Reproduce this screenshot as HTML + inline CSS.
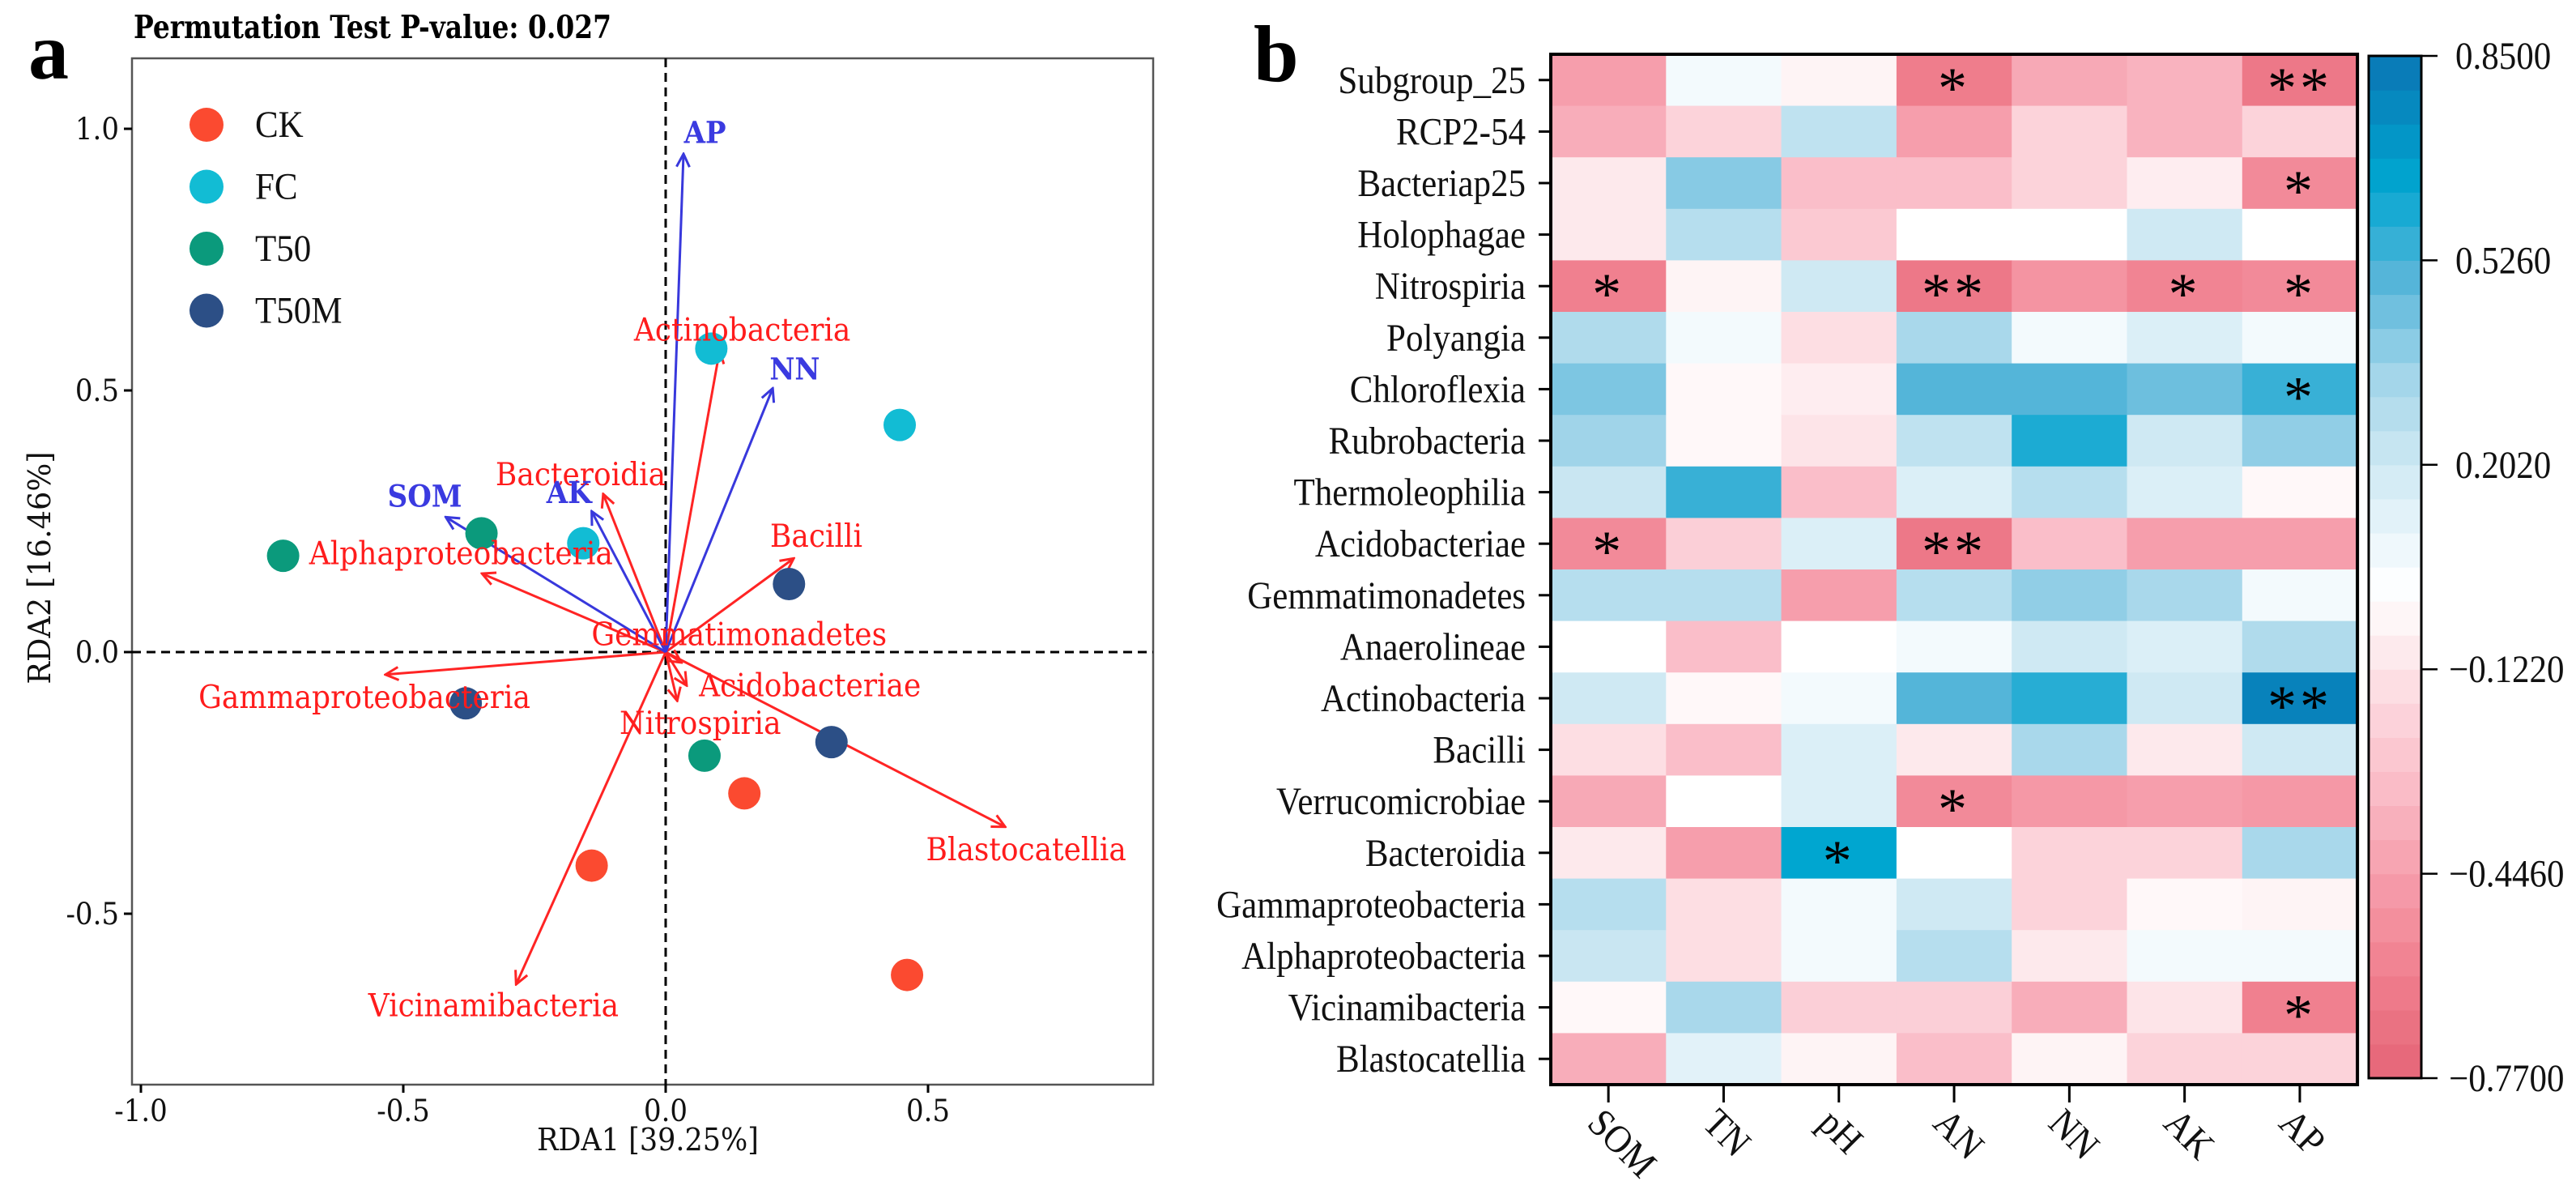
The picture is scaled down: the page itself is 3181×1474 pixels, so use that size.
<!DOCTYPE html>
<html><head><meta charset="utf-8"><style>
html,body{margin:0;padding:0;background:#fff;}
svg{display:block;}
</style></head><body>
<svg id="fig" width="3181" height="1474" viewBox="0 0 3181 1474" xmlns="http://www.w3.org/2000/svg">
<defs>
<marker id="ahR" viewBox="0 0 20 20" refX="18" refY="10" markerWidth="20" markerHeight="20" markerUnits="userSpaceOnUse" orient="auto"><path d="M2,2 L18,10 L2,18" fill="none" stroke="#ff2424" stroke-width="3"/></marker>
<marker id="ahB" viewBox="0 0 20 20" refX="18" refY="10" markerWidth="20" markerHeight="20" markerUnits="userSpaceOnUse" orient="auto"><path d="M2,2 L18,10 L2,18" fill="none" stroke="#3838dc" stroke-width="3"/></marker>
</defs>
<g id="pa"></g>
<g id="pb"></g>
</svg>
<script>
// ---------- Panel a data ----------
const groupNames = ["CK","FC","T50","T50M"];
const groupColors = ["#fb4a30","#12bcd4","#0b9a7c","#2c4f86"];
const sampleGroup = [0,0,0,1,1,1,2,2,2,3,3,3];
const sampleX = [0.15,-0.141,0.46, 0.087,0.446,-0.157, -0.729,-0.351,0.074, 0.235,-0.381,0.316];
const sampleY = [-0.27,-0.408,-0.617, 0.58,0.434,0.208, 0.184,0.227,-0.198, 0.13,-0.098,-0.172];
const envNames = ["AP","NN","SOM","AK"];
const envX = [0.034,0.204,-0.419,-0.141];
const envY = [0.952,0.504,0.258,0.269];
const envLabX = [0.075,0.246,-0.459,-0.184];
const envLabY = [0.993,0.541,0.298,0.305];
const spNames = ["Actinobacteria","Bacteroidia","Alphaproteobacteria","Bacilli","Gemmatimonadetes","Gammaproteobacteria","Acidobacteriae","Nitrospiria","Blastocatellia","Vicinamibacteria"];
const spX = [0.103,-0.119,-0.35,0.244,0.03,-0.534,0.04,0.022,0.647,-0.285];
const spY = [0.577,0.302,0.15,0.179,-0.02,-0.043,-0.064,-0.093,-0.334,-0.635];
const spLabX = [0.146,-0.162,-0.39,0.287,0.14,-0.574,0.275,0.066,0.687,-0.328];
const spLabY = [0.615,0.339,0.188,0.221,0.033,-0.087,-0.064,-0.136,-0.378,-0.676];
const xTicks = [-1.0,-0.5,0.0,0.5];
const yTicks = [-0.5,0.0,0.5,1.0];
const xTickLabels = ["-1.0","-0.5","0.0","0.5"];
const yTickLabels = ["-0.5","0.0","0.5","1.0"];

// ---------- Panel b data ----------
const rowNames = ["Subgroup_25","RCP2-54","Bacteriap25","Holophagae","Nitrospiria","Polyangia","Chloroflexia","Rubrobacteria","Thermoleophilia","Acidobacteriae","Gemmatimonadetes","Anaerolineae","Actinobacteria","Bacilli","Verrucomicrobiae","Bacteroidia","Gammaproteobacteria","Alphaproteobacteria","Vicinamibacteria","Blastocatellia"];
const colNames = ["SOM","TN","pH","AN","NN","AK","AP"];
const corrValues = [
[-0.45,0.05,-0.05,-0.62,-0.4,-0.35,-0.65],
[-0.38,-0.2,0.25,-0.45,-0.2,-0.35,-0.2],
[-0.1,0.4,-0.3,-0.3,-0.2,-0.08,-0.55],
[-0.1,0.28,-0.25,0,0,0.2,0],
[-0.6,-0.05,0.2,-0.65,-0.5,-0.58,-0.55],
[0.3,0.05,-0.15,0.32,0.05,0.15,0.05],
[0.42,-0.03,-0.08,0.5,0.5,0.45,0.55],
[0.35,-0.03,-0.12,0.25,0.6,0.2,0.38],
[0.22,0.55,-0.3,0.15,0.28,0.15,-0.03],
[-0.55,-0.22,0.15,-0.65,-0.3,-0.45,-0.45],
[0.28,0.28,-0.45,0.28,0.38,0.32,0.05],
[0,-0.3,0,0.05,0.2,0.15,0.3],
[0.2,-0.03,0.05,0.5,0.58,0.2,0.8],
[-0.15,-0.3,0.15,-0.1,0.32,-0.1,0.2],
[-0.4,0,0.15,-0.55,-0.48,-0.45,-0.48],
[-0.1,-0.45,0.65,0,-0.2,-0.2,0.32],
[0.28,-0.15,0.05,0.2,-0.2,-0.03,-0.05],
[0.22,-0.15,0.05,0.28,-0.1,0.05,0.05],
[-0.03,0.32,-0.22,-0.22,-0.38,-0.12,-0.6],
[-0.38,0.12,-0.05,-0.3,-0.05,-0.2,-0.2]];
const sigMarks = [
["","","","*","","","**"],["","","","","","",""],["","","","","","","*"],["","","","","","",""],
["*","","","**","","*","*"],["","","","","","",""],["","","","","","","*"],["","","","","","",""],
["","","","","","",""],["*","","","**","","",""],["","","","","","",""],["","","","","","",""],
["","","","","","","**"],["","","","","","",""],["","","","*","","",""],["","","*","","","",""],
["","","","","","",""],["","","","","","",""],["","","","","","","*"],["","","","","","",""]];
const cbarTicks = [0.85,0.526,0.202,-0.122,-0.446,-0.77];
const cbarTickLabels = ["0.8500","0.5260","0.2020","\u22120.1220","\u22120.4460","\u22120.7700"];

const NS="http://www.w3.org/2000/svg";
function mk(parent,tag,attrs,text){const e=document.createElementNS(NS,tag);for(const k in attrs)e.setAttribute(k,attrs[k]);if(text!==undefined)e.textContent=text;parent.appendChild(e);return e;}
// stretched text: placed via transform with vertical scale
function stx(parent,x,y,sy,attrs,text){const a=Object.assign({x:0,y:0,transform:'translate('+x+','+y+') scale(1,'+sy+')'},attrs);return mk(parent,'text',a,text);}

// ---------- Panel a ----------
const pa=document.getElementById('pa');
const X0=822, Y0=805, KX=648, KY=646;
const sx=v=>X0+v*KX, sy=v=>Y0-v*KY;
const boxL=163, boxR=1424, boxT=72, boxB=1339;
const serif='"DejaVu Serif", "Liberation Serif", serif';
let t;
t=mk(pa,'text',{x:35,y:97,'font-family':'"Liberation Serif", serif','font-weight':'bold','font-size':100,fill:'#000'},'a');

t=stx(pa,165,47,1.1,{'font-family':serif,'font-weight':'bold','font-size':36,fill:'#000',textLength:590,lengthAdjust:'spacingAndGlyphs'},'Permutation Test P-value: 0.027');

t=mk(pa,'rect',{x:boxL,y:boxT,width:boxR-boxL,height:boxB-boxT,fill:'none',stroke:'#555',"stroke-width":2.5});

t=mk(pa,'line',{x1:X0,x2:X0,y1:boxT,y2:boxB,stroke:'#000','stroke-width':3,'stroke-dasharray':'11,7'});

t=mk(pa,'line',{x1:boxL,x2:boxR,y1:Y0,y2:Y0,stroke:'#000','stroke-width':3,'stroke-dasharray':'11,7'});

xTicks.forEach((v,i)=>{
  const l=mk(pa,'line',{x1:sx(v),x2:sx(v),y1:boxB,y2:boxB+10,stroke:'#000','stroke-width':3});
  
  const tx=stx(pa,sx(v),boxB+45,1.1,{'text-anchor':'middle','font-family':serif,'font-size':34,fill:'#111'},xTickLabels[i]);
  
});
yTicks.forEach((v,i)=>{
  const l=mk(pa,'line',{x1:boxL-10,x2:boxL,y1:sy(v),y2:sy(v),stroke:'#000','stroke-width':3});
  
  const tx=stx(pa,boxL-16,sy(v)+13,1.1,{'text-anchor':'end','font-family':serif,'font-size':34,fill:'#111'},yTickLabels[i]);
  
});
t=stx(pa,800,1420,1.1,{'text-anchor':'middle','font-family':serif,'font-size':35,fill:'#111'},'RDA1 [39.25%]');

t=mk(pa,'text',{x:0,y:0,transform:'translate(62,701) rotate(-90) scale(1.08,1.12)','text-anchor':'middle','font-family':serif,'font-size':34,fill:'#111'},'RDA2 [16.46%]');

// species arrows
spNames.forEach((n,i)=>{
  const a=mk(pa,'line',{x1:X0,y1:Y0,x2:sx(spX[i]),y2:sy(spY[i]),stroke:'#ff2424','stroke-width':3,'marker-end':'url(#ahR)'});
  
});
envNames.forEach((n,i)=>{
  const a=mk(pa,'line',{x1:X0,y1:Y0,x2:sx(envX[i]),y2:sy(envY[i]),stroke:'#3838dc','stroke-width':3,'marker-end':'url(#ahB)'});
  
});
// points
sampleX.forEach((v,i)=>{
  const c=mk(pa,'circle',{cx:sx(v),cy:sy(sampleY[i]),r:20,fill:groupColors[sampleGroup[i]]});
  
});
spNames.forEach((n,i)=>{
  const tx=stx(pa,sx(spLabX[i]),sy(spLabY[i])+13,1.1,{'text-anchor':'middle','font-family':serif,'font-size':36,fill:'#ff1c1c'},n);
  
});
envNames.forEach((n,i)=>{
  const tx=stx(pa,sx(envLabX[i]),sy(envLabY[i])+13,1.1,{'text-anchor':'middle','font-family':serif,'font-weight':'bold','font-size':34,fill:'#3a3ae0'},n);
  
});
// legend
groupNames.forEach((n,i)=>{
  const y=154+i*76.5;
  const c=mk(pa,'circle',{cx:255,cy:y,r:21,fill:groupColors[i]});
  
  const tx=stx(pa,315,y+15,1.08,{'font-family':'"Liberation Serif", serif','font-size':43,fill:'#111'},n);
  
});

// ---------- Panel b ----------
const pb=document.getElementById('pb');
const HL=1915, HT=67, CW=142.3, RH=63.6;
const HR=HL+CW*colNames.length, HB=HT+RH*rowNames.length;
const VMIN=-0.77, VMAX=0.85;
const stops=[[-0.77,[229,101,119]],[-0.6,[240,128,143]],[-0.45,[246,158,172]],[-0.3,[250,190,201]],[-0.12,[253,228,232]],[0,[255,255,255]],[0.08,[236,247,252]],[0.2,[207,233,243]],[0.35,[160,212,233]],[0.5,[84,181,217]],[0.65,[0,166,208]],[0.85,[10,118,180]]];
function cmap(v){
  v=Math.max(VMIN,Math.min(VMAX,v));
  for(let i=0;i<stops.length-1;i++){const a=stops[i],b=stops[i+1];
    if(v<=b[0]){const f=(v-a[0])/(b[0]-a[0]);const c=a[1].map((x,k)=>Math.round(x+(b[1][k]-x)*f));return 'rgb('+c.join(',')+')';}}
  return 'rgb(10,118,180)';
}
t=mk(pb,'text',{x:1548,y:100,'font-family':'"Liberation Serif", serif','font-weight':'bold','font-size':100,fill:'#000'},'b');

corrValues.forEach((row,r)=>{
  row.forEach((v,c)=>{
    const rc=mk(pb,'rect',{x:HL+c*CW,y:HT+r*RH,width:CW+0.6,height:RH+0.6,fill:cmap(v)});
    
    const s=sigMarks[r][c];
    if(s){const st=mk(pb,'text',{x:HL+c*CW+CW/2,y:HT+r*RH+RH/2+34,'text-anchor':'middle','font-family':'"Liberation Serif", serif','font-size':72,fill:'#000','letter-spacing':4},s);
      }
  });
});
t=mk(pb,'rect',{x:HL,y:HT,width:HR-HL,height:HB-HT,fill:'none',stroke:'#000','stroke-width':4});

const lf='"Liberation Serif", serif';
rowNames.forEach((n,r)=>{
  const y=HT+r*RH+RH/2;
  const l=mk(pb,'line',{x1:HL-15,x2:HL,y1:y,y2:y,stroke:'#000','stroke-width':3});
  
  const tx=stx(pb,1884,y+16,1.12,{'text-anchor':'end','font-family':lf,'font-size':43,fill:'#111'},n);
  
});
colNames.forEach((n,c)=>{
  const x=HL+c*CW+CW/2;
  const l=mk(pb,'line',{x1:x,x2:x,y1:HB,y2:HB+22,stroke:'#000','stroke-width':3});
  
  const tx=mk(pb,'text',{x:0,y:0,transform:'translate('+(x-28)+','+(HB+50)+') rotate(45) scale(1,1.1)','font-family':lf,'font-size':44,fill:'#111'},n);
  
});
// colorbar
const CBL=2925, CBR=2990, CBT=69, CBB=1331;
const cy=v=>CBB-(v-VMIN)/(VMAX-VMIN)*(CBB-CBT);
const NSTEP=30;
for(let i=0;i<NSTEP;i++){
  const v0=VMIN+(VMAX-VMIN)*i/NSTEP, v1=VMIN+(VMAX-VMIN)*(i+1)/NSTEP;
  const rc=mk(pb,'rect',{x:CBL,y:cy(v1),width:CBR-CBL,height:cy(v0)-cy(v1)+0.6,fill:cmap((v0+v1)/2)});
  
}
t=mk(pb,'rect',{x:CBL,y:CBT,width:CBR-CBL,height:CBB-CBT,fill:'none',stroke:'#000','stroke-width':3});

cbarTicks.forEach((v,i)=>{
  const l=mk(pb,'line',{x1:CBR,x2:CBR+20,y1:cy(v),y2:cy(v),stroke:'#000','stroke-width':2.5});
  
  const tx=stx(pb,v<0?3024:3032,cy(v)+16,1.12,{'font-family':lf,'font-size':43,fill:'#111'},cbarTickLabels[i]);
  
});
</script>
</body></html>
